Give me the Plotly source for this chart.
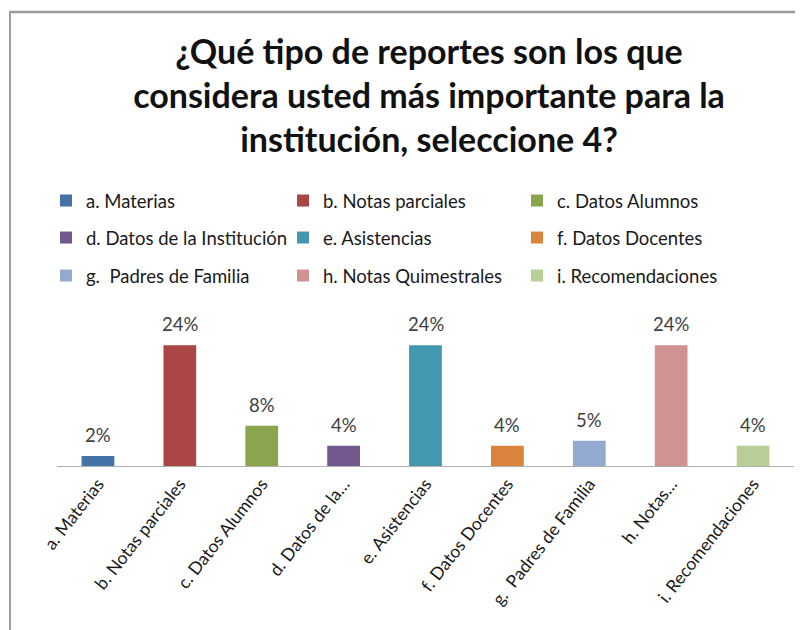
import plotly.graph_objects as go

categories = ["a. Materias", "b. Notas parciales", "c. Datos Alumnos",
              "d. Datos de la Institución", "e. Asistencias", "f. Datos Docentes",
              "g.\u00a0 Padres de Familia", "h. Notas Quimestrales", "i. Recomendaciones"]
tick_labels = ["a. Materias", "b. Notas parciales", "c. Datos Alumnos",
               "d. Datos de la…", "e. Asistencias", "f. Datos Docentes",
               "g.\u00a0 Padres de Familia", "h. Notas…", "i. Recomendaciones"]
values = [2, 24, 8, 4, 24, 4, 5, 24, 4]
colors = ["#4572A7", "#AA4643", "#89A54E", "#71588F", "#4198AF",
          "#DB843D", "#93A9CF", "#D19392", "#B9CD96"]

OFF = 8  # page body margin
W, H = 795, 622
ML, MR, MT, MB = 49, 9, 307, 164
PW, PH = W - ML - MR, H - MT - MB


def px_x(p):  # screenshot pixel -> paper x
    return (p - OFF - ML) / PW


def px_y(p):  # screenshot pixel -> paper y
    return (H - MB - (p - OFF)) / PH


fig = go.Figure()
legend_layouts = {}
col_text_x = [86, 323, 557]
row_y = [201, 238, 276]
for i, (cat, tl, v, c) in enumerate(zip(categories, tick_labels, values, colors)):
    key = "legend" if i == 0 else f"legend{i+1}"
    fig.add_trace(go.Bar(x=[tl], y=[v], name=cat, marker_color=c,
                         marker_line_width=0, legend=key, showlegend=True,
                         cliponaxis=False))
    col, row = i % 3, i // 3
    legend_layouts[key] = dict(
        xref="paper", yref="paper",
        x=px_x(col_text_x[col] - 40), y=px_y(row_y[row]),
        xanchor="left", yanchor="middle",
        font=dict(family="Lato", size=18.5, color="#1a1a1a"),
        bgcolor="rgba(0,0,0,0)", borderwidth=0,
        itemclick=False, itemdoubleclick=False,
    )

for tl, v in zip(tick_labels, values):
    fig.add_annotation(x=tl, y=v, text=f"{v}%", showarrow=False,
                       yanchor="middle", yshift=21,
                       font=dict(family="Lato", size=18.5, color="#404040"))

# chart frame (Excel chart area border): left and top edges visible
fig.add_shape(type="line", xref="paper", yref="paper",
              x0=px_x(10), x1=px_x(10), y0=px_y(12), y1=px_y(660),
              line=dict(color="#a0a0a0", width=2))
fig.add_shape(type="line", xref="paper", yref="paper",
              x0=px_x(9), x1=px_x(830), y0=px_y(12), y1=px_y(12),
              line=dict(color="#999999", width=2.5))

fig.update_layout(
    width=W, height=H,
    margin=dict(l=ML, r=MR, t=MT, b=MB, autoexpand=False),
    paper_bgcolor="white", plot_bgcolor="white",
    barmode="overlay", bargap=0.6,
    title=dict(text="¿Qué tipo de reportes son los que<br>considera usted más importante para la<br>institución, seleccione 4?",
               x=(429 - OFF) / W, xanchor="center", xref="container",
               y=1 - 56 / H, yanchor="middle", yref="container",
               font=dict(family="Lato", size=34, color="#111111", weight="bold")),
    xaxis=dict(showline=True, linecolor="#b0b0b0", linewidth=1, ticks="",
               tickangle=-52, tickfont=dict(family="Lato", size=17.5, color="#1a1a1a"),
               showgrid=False, zeroline=False, automargin=False, fixedrange=True),
    yaxis=dict(range=[0, 30], visible=False, showgrid=False, zeroline=False,
               automargin=False, fixedrange=True),
    **legend_layouts,
)

fig.write_html("out.html")
